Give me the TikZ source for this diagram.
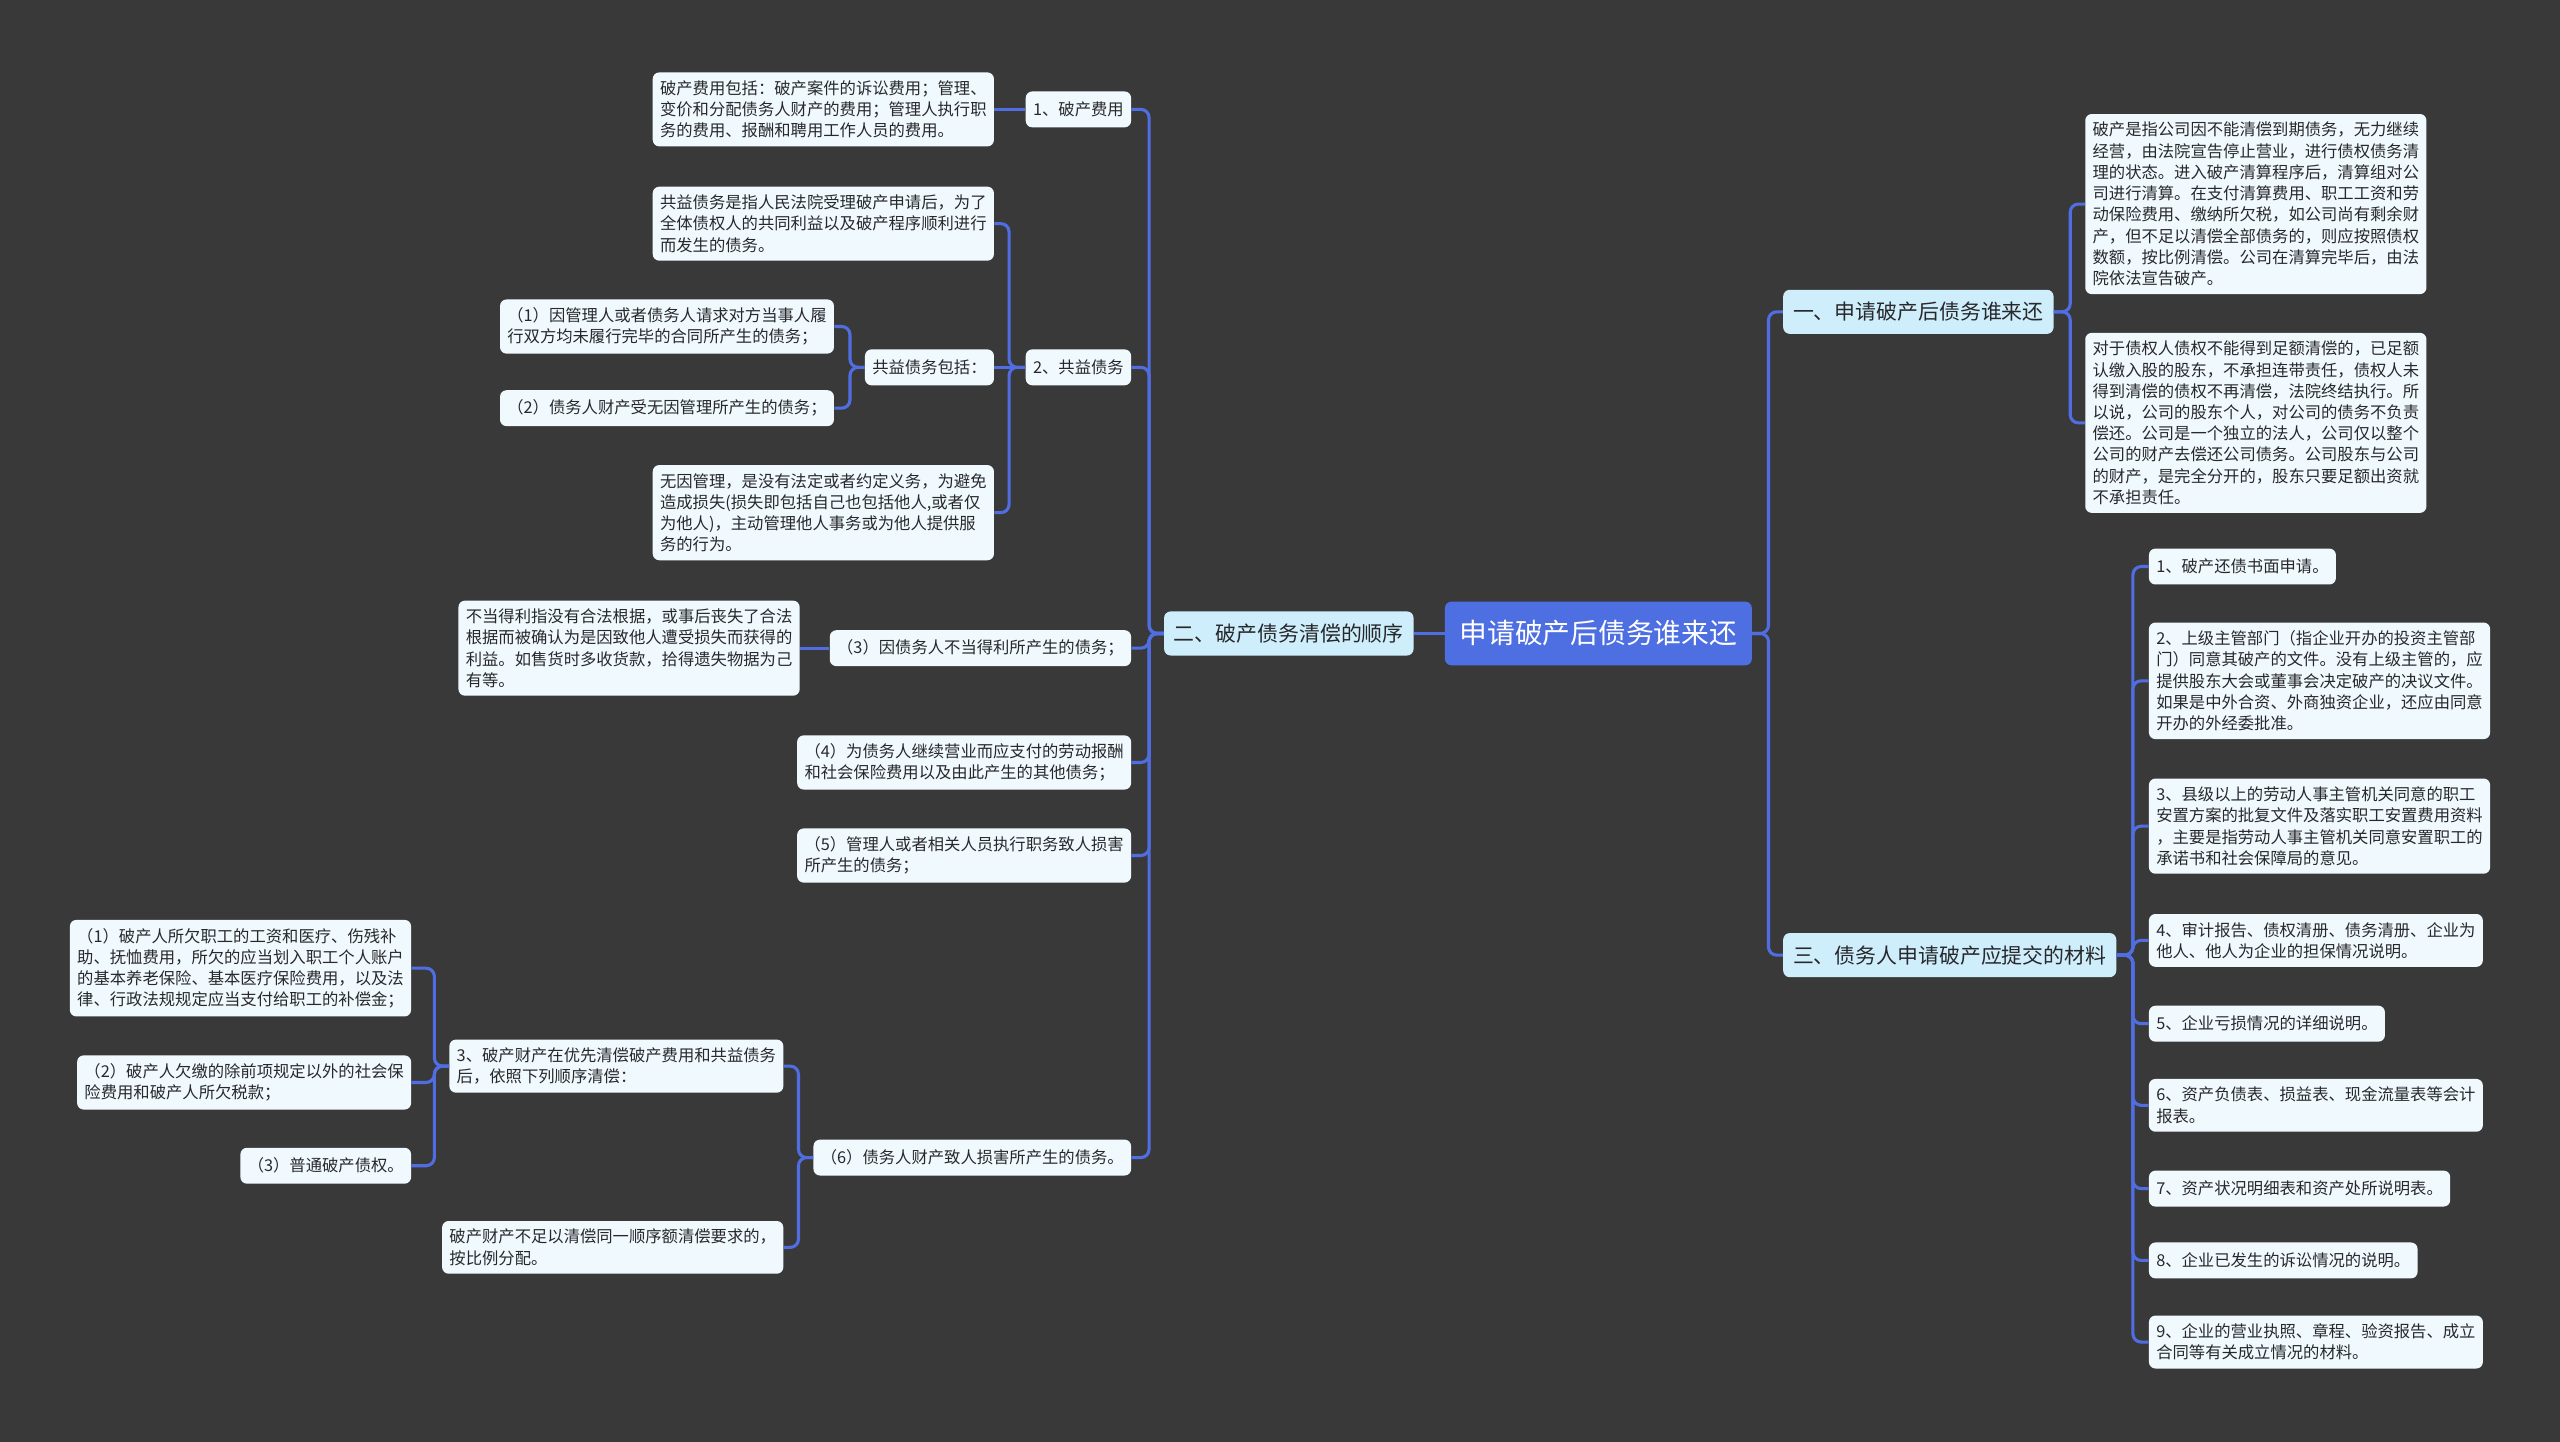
\documentclass[tikz,border=0pt]{standalone}
\usepackage{fontspec}
\usepackage{xcolor}
\usepackage{tikz}
\usetikzlibrary{positioning}
\newfontfamily\cjk{Noto Sans CJK SC}
\definecolor{bgdark}{RGB}{57,57,58}
\definecolor{rootblue}{RGB}{78,111,226}
\definecolor{topicfill}{RGB}{206,238,252}
\definecolor{leaffill}{RGB}{240,250,254}
\definecolor{inkdark}{RGB}{40,40,43}
\definecolor{linkblue}{RGB}{80,110,226}
\tikzset{
  basebox/.style={
    rectangle, rounded corners=4pt, align=left
  },
  rootbox/.style={basebox, fill=rootblue, text=white,
                  font=\cjk\fontsize{17}{20}\selectfont,
                  minimum width=188pt, minimum height=39pt, inner xsep=9pt},
  topicbox/.style={basebox, fill=topicfill, text=inkdark,
                   font=\cjk\fontsize{12.8}{15}\selectfont,
                   minimum height=27pt, inner xsep=6pt},
  leafbox/.style={basebox, fill=leaffill, text=inkdark,
                  font=\cjk\fontsize{10}{13}\selectfont,
                  minimum height=22pt, inner xsep=4.5pt, inner ysep=5pt},
  link/.style={draw=linkblue, line width=1.9pt, rounded corners=5pt}
}
\begin{document}
\begin{tikzpicture}[x=1pt, y=-1pt, every node/.style={align=left}]

  \useasboundingbox (0,0) rectangle (1568,883);
  \fill[bgdark] (0,0) rectangle (1568,883);

  \node[rootbox] (root) at (979,388) {申请破产后债务谁来还};

  \node[topicbox, anchor=east] (order) at (866,388) {二、破产债务清偿的顺序};
  \node[topicbox, anchor=west] (who)   at (1092,191) {一、申请破产后债务谁来还};
  \node[topicbox, anchor=west] (mat)   at (1092,585) {三、债务人申请破产应提交的材料};

  \node[leafbox, anchor=east] (fee)    at (693,67)  {1、破产费用};
  \node[leafbox, anchor=east] (common) at (693,225) {2、共益债务};
  \node[leafbox, anchor=east] (c3)     at (693,397) {（3）因债务人不当得利所产生的债务；};
  \node[leafbox, anchor=east] (c4)     at (693,467)
        {（4）为债务人继续营业而应支付的劳动报酬\\和社会保险费用以及由此产生的其他债务；};
  \node[leafbox, anchor=east] (c5)     at (693,524)
        {（5）管理人或者相关人员执行职务致人损害\\所产生的债务；};
  \node[leafbox, anchor=east] (c6)     at (693,709) {（6）债务人财产致人损害所产生的债务。};

  \node[leafbox, anchor=east] (feeinfo) at (609,67)
        {破产费用包括：破产案件的诉讼费用；管理、\\变价和分配债务人财产的费用；管理人执行职\\务的费用、报酬和聘用工作人员的费用。};

  \node[leafbox, anchor=east] (cdef) at (609,137)
        {共益债务是指人民法院受理破产申请后，为了\\全体债权人的共同利益以及破产程序顺利进行\\而发生的债务。};
  \node[leafbox, anchor=east] (cinc) at (609,225) {共益债务包括：};
  \node[leafbox, anchor=east] (cneg) at (609,314)
        {无因管理，是没有法定或者约定义务，为避免\\造成损失(损失即包括自己也包括他人,或者仅\\为他人)，主动管理他人事务或为他人提供服\\务的行为。};

  \node[leafbox, anchor=east] (ci1) at (511,200)
        {（1）因管理人或者债务人请求对方当事人履\\行双方均未履行完毕的合同所产生的债务；};
  \node[leafbox, anchor=east] (ci2) at (511,250) {（2）债务人财产受无因管理所产生的债务；};

  \node[leafbox, anchor=east] (unjust) at (490,397)
        {不当得利指没有合法根据，或事后丧失了合法\\根据而被确认为是因致他人遭受损失而获得的\\利益。如售货时多收货款，拾得遗失物据为己\\有等。};

  \node[leafbox, anchor=east] (rank)  at (480,653)
        {3、破产财产在优先清偿破产费用和共益债务\\后，依照下列顺序清偿：};
  \node[leafbox, anchor=east] (ratio) at (480,764)
        {破产财产不足以清偿同一顺序额清偿要求的，\\按比例分配。};

  \node[leafbox, anchor=east] (p1) at (252,593)
        {（1）破产人所欠职工的工资和医疗、伤残补\\助、抚恤费用，所欠的应当划入职工个人账户\\的基本养老保险、基本医疗保险费用，以及法\\律、行政法规规定应当支付给职工的补偿金；};
  \node[leafbox, anchor=east] (p2) at (252,663)
        {（2）破产人欠缴的除前项规定以外的社会保\\险费用和破产人所欠税款；};
  \node[leafbox, anchor=east] (p3) at (252,714) {（3）普通破产债权。};

  \node[leafbox, anchor=west] (w1) at (1277,125)
        {破产是指公司因不能清偿到期债务，无力继续\\经营，由法院宣告停止营业，进行债权债务清\\理的状态。进入破产清算程序后，清算组对公\\司进行清算。在支付清算费用、职工工资和劳\\动保险费用、缴纳所欠税，如公司尚有剩余财\\产，但不足以清偿全部债务的，则应按照债权\\数额，按比例清偿。公司在清算完毕后，由法\\院依法宣告破产。};
  \node[leafbox, anchor=west] (w2) at (1277,259)
        {对于债权人债权不能得到足额清偿的，已足额\\认缴入股的股东，不承担连带责任，债权人未\\得到清偿的债权不再清偿，法院终结执行。所\\以说，公司的股东个人，对公司的债务不负责\\偿还。公司是一个独立的法人，公司仅以整个\\公司的财产去偿还公司债务。公司股东与公司\\的财产，是完全分开的，股东只要足额出资就\\不承担责任。};

  \node[leafbox, anchor=west] (m1) at (1316,347) {1、破产还债书面申请。};
  \node[leafbox, anchor=west] (m2) at (1316,417)
        {2、上级主管部门（指企业开办的投资主管部\\门）同意其破产的文件。没有上级主管的，应\\提供股东大会或董事会决定破产的决议文件。\\如果是中外合资、外商独资企业，还应由同意\\开办的外经委批准。};
  \node[leafbox, anchor=west] (m3) at (1316,506)
        {3、县级以上的劳动人事主管机关同意的职工\\安置方案的批复文件及落实职工安置费用资料\\，主要是指劳动人事主管机关同意安置职工的\\承诺书和社会保障局的意见。};
  \node[leafbox, anchor=west] (m4) at (1316,576)
        {4、审计报告、债权清册、债务清册、企业为\\他人、他人为企业的担保情况说明。};
  \node[leafbox, anchor=west] (m5) at (1316,627) {5、企业亏损情况的详细说明。};
  \node[leafbox, anchor=west] (m6) at (1316,677)
        {6、资产负债表、损益表、现金流量表等会计\\报表。};
  \node[leafbox, anchor=west] (m7) at (1316,728) {7、资产状况明细表和资产处所说明表。};
  \node[leafbox, anchor=west] (m8) at (1316,772) {8、企业已发生的诉讼情况的说明。};
  \node[leafbox, anchor=west] (m9) at (1316,822)
        {9、企业的营业执照、章程、验资报告、成立\\合同等有关成立情况的材料。};

  \draw[link] (root) -- (order);
  \draw[link] (root.east) -- ++(10,0) |- (who.west);
  \draw[link] (root.east) -- ++(10,0) |- (mat.west);

  \draw[link] (order.west) -- ++(-9,0) |- (fee.east);
  \draw[link] (order.west) -- ++(-9,0) |- (common.east);
  \draw[link] (order.west) -- ++(-9,0) |- (c3.east);
  \draw[link] (order.west) -- ++(-9,0) |- (c4.east);
  \draw[link] (order.west) -- ++(-9,0) |- (c5.east);
  \draw[link] (order.west) -- ++(-9,0) |- (c6.east);

  \draw[link] (fee) -- (feeinfo);
  \draw[link] (common.west) -- ++(-10,0) |- (cdef.east);
  \draw[link] (common) -- (cinc);
  \draw[link] (common.west) -- ++(-10,0) |- (cneg.east);
  \draw[link] (cinc.west) -- ++(-9,0) |- (ci1.east);
  \draw[link] (cinc.west) -- ++(-9,0) |- (ci2.east);
  \draw[link] (c3) -- (unjust);
  \draw[link] (c6.west) -- ++(-9,0) |- (rank.east);
  \draw[link] (c6.west) -- ++(-9,0) |- (ratio.east);
  \draw[link] (rank.west) -- ++(-9,0) |- (p1.east);
  \draw[link] (rank.west) -- ++(-9,0) |- (p2.east);
  \draw[link] (rank.west) -- ++(-9,0) |- (p3.east);

  \draw[link] (who.east) -- ++(10,0) |- (w1.west);
  \draw[link] (who.east) -- ++(10,0) |- (w2.west);

  \draw[link] (mat.east) -- ++(10,0) |- (m1.west);
  \draw[link] (mat.east) -- ++(10,0) |- (m2.west);
  \draw[link] (mat.east) -- ++(10,0) |- (m3.west);
  \draw[link] (mat.east) -- ++(10,0) |- (m4.west);
  \draw[link] (mat.east) -- ++(10,0) |- (m5.west);
  \draw[link] (mat.east) -- ++(10,0) |- (m6.west);
  \draw[link] (mat.east) -- ++(10,0) |- (m7.west);
  \draw[link] (mat.east) -- ++(10,0) |- (m8.west);
  \draw[link] (mat.east) -- ++(10,0) |- (m9.west);

\end{tikzpicture}
\end{document}
